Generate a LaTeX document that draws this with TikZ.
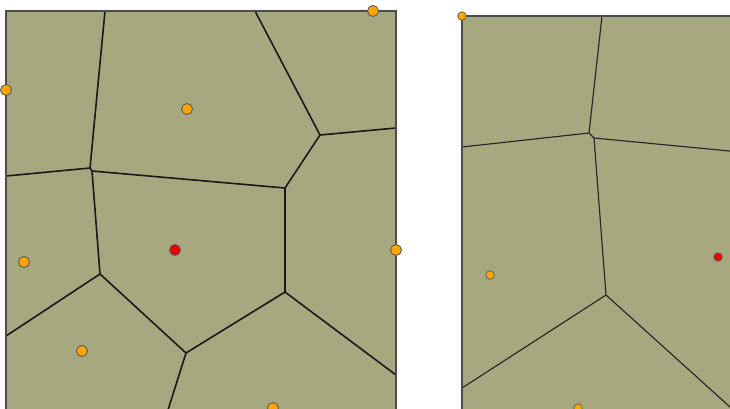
\documentclass[tikz,border=0pt]{standalone}
\usepackage{tikz}

\definecolor{cellfill}{RGB}{168,168,128}
\definecolor{siteorange}{RGB}{255,165,0}
\definecolor{queryred}{RGB}{240,0,0}

\begin{document}
\begin{tikzpicture}[
  x=1pt, y=-1pt,
  panel/.style={fill=cellfill},
  frame/.style={draw=black!70, line width=1.1pt},
  edge/.style={draw=black!90, line width=1.6pt, line join=round},
  thinedge/.style={draw=black!85, line width=1.15pt, line join=round},
  site/.style={circle, draw=black!65, fill=siteorange, line width=0.9pt,
               minimum size=11pt, inner sep=0pt},
  query/.style={site, fill=queryred},
  smallsite/.style={site, minimum size=8.5pt, line width=0.7pt},
  smallquery/.style={smallsite, fill=queryred}
]
\useasboundingbox (0,0) rectangle (730,408);
\clip (0,0) rectangle (730,408);

% left panel
\fill[panel] (6,11) rectangle (396,420);

\coordinate (a1) at (90,168);
\coordinate (a2) at (92,171);
\coordinate (a3) at (285,188);
\coordinate (a4) at (100,274);
\coordinate (a5) at (320,135);
\coordinate (a6) at (285,292);
\coordinate (a7) at (186,353);

\draw[edge] (105,11) -- (a1) -- (6,176);
\draw[edge] (a1) -- (a2) -- (a3) -- (a5) -- (255,11);
\draw[edge] (a5) -- (396,128);
\draw[edge] (a2) -- (a4) -- (6,336);
\draw[edge] (a3) -- (a6) -- (396,375);
\draw[edge] (a4) -- (a7) -- (a6);
\draw[edge] (a7) -- (168,410);

\draw[frame] (6,420) -- (6,11) -- (396,11) -- (396,420);

\node[site] (s1) at (6,90) {};
\node[site] (s2) at (187,109) {};
\node[site] (s3) at (373,11) {};
\node[site] (s4) at (24,262) {};
\node[query] (q1) at (175,250) {};
\node[site] (s5) at (82,351) {};
\node[site] (s6) at (396,250) {};
\node[site] (s7) at (273,408) {};

% right panel
\fill[panel] (462,16) rectangle (740,420);

\coordinate (b1) at (589,133);
\coordinate (b2) at (594,138);
\coordinate (b3) at (606,295);

\draw[thinedge] (602,16) -- (b1) -- (462,147);
\draw[thinedge] (b1) -- (b2) -- (740,152);
\draw[thinedge] (b2) -- (b3) -- (462,388);
\draw[thinedge] (b3) -- (740,416);

\draw[frame] (462,420) -- (462,16) -- (740,16);

\node[smallsite] (t1) at (462,16) {};
\node[smallsite] (t2) at (490,275) {};
\node[smallquery] (r1) at (718,257) {};
\node[smallsite] (t3) at (578,408) {};
\end{tikzpicture}
\end{document}
